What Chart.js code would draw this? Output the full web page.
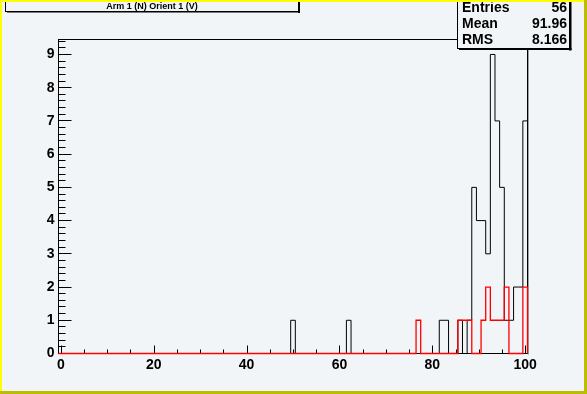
<!DOCTYPE html>
<html>
<head>
<meta charset="utf-8">
<script src="https://cdn.jsdelivr.net/npm/chart.js@4.4.0/dist/chart.umd.min.js"></script>
<style>
  html, body { margin: 0; padding: 0; background: #f2f5f7; }
  #wrap { width: 587px; height: 394px; }
</style>
</head>
<body>
<div id="wrap"><canvas id="hist" width="587" height="394"></canvas></div>
<script>
// histogram contents (bins of width 1, centred on integers)
const titleText   = 'Arm 1 (N) Orient 1 (V)';
const blackBins   = [50, 62, 82, 83, 86, 88, 89, 90, 91, 92, 93, 94, 95, 96, 97, 98, 99, 100];
const blackCounts = [ 1,  1,  1,  1,  1,  1,  5,  4,  4,  3,  9,  7,  5,  1,  1,  2,  2,   7];
const redBins     = [77, 86, 87, 88, 91, 92, 93, 94, 95, 96, 100];
const redCounts   = [ 1,  1,  1,  1,  1,  2,  1,  1,  1,  2,   2];
const xTickLabels = [0, 20, 40, 60, 80, 100];
const yTickLabels = [0, 1, 2, 3, 4, 5, 6, 7, 8, 9];
const statsNames  = ['Entries', 'Mean', 'RMS'];
const statsValues = ['56', '91.96', '8.166'];

const nBins = 101;
const xMin = -0.5, xMax = 100.5, yMax = 9.45;

const bgColor = '#f2f5f7';
const statsFont = 'bold 14px "Liberation Sans", Arial, sans-serif';

// turn bin contents into step points at bin edges
const stepPoints = (bins, counts) => {
    let full = new Array(nBins).fill(0);
    bins.forEach((b, i) => full[b] = counts[i]);
    let pts = full.map((v, i) => ({ x: i - 0.5, y: v }));
    pts.push({ x: xMax, y: full[nBins - 1] });
    pts.push({ x: xMax, y: 0 });
    return pts;
};

const rootLook = {
    id: 'rootLook',
    beforeDraw(chart) {
        const ctx = chart.ctx;
        ctx.save();
        ctx.fillStyle = bgColor;
        ctx.fillRect(0, 0, chart.width, chart.height);
        ctx.restore();
    },
    beforeDatasetsDraw(chart) {
        const ctx = chart.ctx;
        const a = chart.chartArea;
        const xs = chart.scales.x, ys = chart.scales.y;
        ctx.save();
        // frame with a grey shadow on the right
        ctx.strokeStyle = '#a0a0a0';
        ctx.lineWidth = 1;
        ctx.beginPath();
        ctx.moveTo(a.right + 1, a.top + 1);
        ctx.lineTo(a.right + 1, a.bottom + 1);
        ctx.stroke();
        ctx.strokeStyle = '#000';
        ctx.strokeRect(a.left, a.top, a.right - a.left, a.bottom - a.top);
        // y ticks, drawn inward
        ctx.beginPath();
        for (let k = 0; k <= Math.round(yMax * 5); k++) {
            let v = k / 5;
            let y = Math.floor(ys.getPixelForValue(v)) + 0.5;
            let len = (k % 5 === 0) ? 13 : 7;
            ctx.moveTo(a.left, y);
            ctx.lineTo(a.left + len, y);
        }
        // x ticks, drawn upward
        for (let v = 0; v <= 100; v += 5) {
            let x = Math.round(xs.getPixelForValue(v)) + 0.5;
            let len = (v % 20 === 0) ? 8 : 4;
            ctx.moveTo(x, a.bottom);
            ctx.lineTo(x, a.bottom - len);
        }
        ctx.stroke();
        ctx.restore();
    },
    afterDraw(chart) {
        const ctx = chart.ctx;
        ctx.save();
        // title box
        ctx.fillStyle = bgColor;
        ctx.fillRect(5.5, -2, 293, 13.5);
        ctx.strokeStyle = '#000';
        ctx.lineWidth = 1;
        ctx.strokeRect(5.5, -2, 293, 13.5);
        ctx.fillStyle = '#000';
        ctx.fillRect(298, 0, 2, 13);
        ctx.fillRect(7, 11, 293, 1.5);
        ctx.font = 'bold 9px "Liberation Sans", Arial, sans-serif';
        ctx.textAlign = 'center';
        ctx.textBaseline = 'middle';
        ctx.fillText(titleText, 152, 6.5);

        // stats box
        ctx.fillStyle = bgColor;
        ctx.fillRect(457.5, -2, 112, 50.5);
        ctx.strokeRect(457.5, -2, 112, 50.5);
        ctx.fillStyle = '#000';
        ctx.fillRect(569, 0, 2.5, 50.5);
        ctx.fillRect(459, 48, 112.5, 2);
        ctx.font = statsFont;
        ctx.textBaseline = 'middle';
        statsNames.forEach((name, i) => {
            let y = 8 + i * 16.3;
            ctx.textAlign = 'left';
            ctx.fillText(name, 462, y);
            ctx.textAlign = 'right';
            ctx.fillText(statsValues[i], 567, y);
        });

        // canvas border
        ctx.fillStyle = '#ffff00';
        ctx.fillRect(0, 0, chart.width, 2);
        ctx.fillRect(0, 0, 2, chart.height);
        ctx.fillStyle = '#bcbc00';
        ctx.fillRect(0, chart.height - 3, chart.width, 3);
        ctx.fillRect(chart.width - 3, 0, 3, chart.height);
        ctx.restore();
    }
};

const tickFont = { family: '"Liberation Sans", Arial, sans-serif', size: 14, weight: 'bold' };

new Chart(document.getElementById('hist'), {
    type: 'line',
    data: {
        datasets: [{
            label: 'red',
            data: stepPoints(redBins, redCounts),
            stepped: 'before',
            borderColor: '#ff0000',
            borderWidth: 1.3,
            pointRadius: 0,
            fill: false,
            clip: false,
            order: 0
        }, {
            label: 'black',
            data: stepPoints(blackBins, blackCounts),
            stepped: 'before',
            borderColor: '#000000',
            borderWidth: 1,
            pointRadius: 0,
            fill: false,
            clip: false,
            order: 1
        }]
    },
    options: {
        responsive: false,
        animation: false,
        events: [],
        layout: { autoPadding: false, padding: { top: 39.5, right: 59.5, left: 0, bottom: 0 } },
        plugins: {
            legend: { display: false },
            tooltip: { enabled: false }
        },
        scales: {
            x: {
                type: 'linear',
                min: xMin,
                max: xMax,
                grid: { display: false, drawTicks: false },
                border: { display: false },
                afterBuildTicks: s => { s.ticks = xTickLabels.map(v => ({ value: v })); },
                afterFit: s => { s.height = 40.5; },
                ticks: {
                    autoSkip: false,
                    maxRotation: 0,
                    padding: 3,
                    color: '#000',
                    font: tickFont,
                    callback: v => String(v)
                }
            },
            y: {
                type: 'linear',
                min: 0,
                max: yMax,
                grid: { display: false, drawTicks: false },
                border: { display: false },
                afterBuildTicks: s => { s.ticks = yTickLabels.map(v => ({ value: v })); },
                afterFit: s => { s.width = 58.5; },
                ticks: {
                    autoSkip: false,
                    padding: 4,
                    color: '#000',
                    font: tickFont,
                    callback: v => String(v)
                }
            }
        }
    },
    plugins: [rootLook]
});
</script>
</body>
</html>
